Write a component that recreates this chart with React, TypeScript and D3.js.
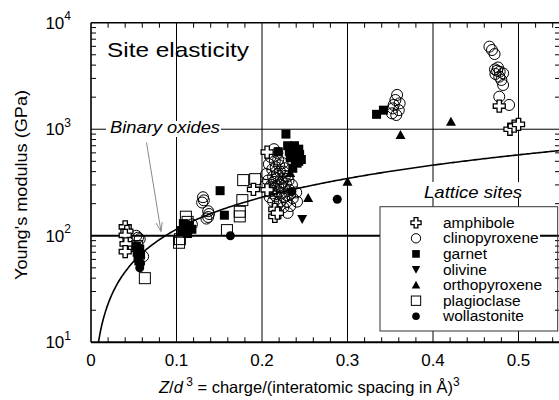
import React from "react";
import * as d3 from "d3";

// Young's modulus of crystal sites vs. Z/d^3, by host mineral: [Z/d^3, E (GPa)]
const amphibole: [number, number][] = [
  [0.040, 121], [0.042, 110], [0.040, 101], [0.041, 84], [0.040, 71],
  [0.190, 272], [0.206, 610], [0.206, 270], [0.215, 177], [0.215, 152], [0.218, 163],
  [0.4775, 1650], [0.490, 1000], [0.495, 1070], [0.500, 1110],
];
const clinopyroxene: [number, number][] = [
  [0.053, 100], [0.057, 93], [0.055, 96], [0.061, 64],
  [0.112, 125], [0.118, 128],
  [0.131, 230], [0.132, 215], [0.130, 205], [0.137, 170], [0.138, 160], [0.137, 150], [0.135, 145],
  [0.210, 550], [0.215, 500], [0.220, 460], [0.212, 420], [0.225, 400], [0.218, 380], [0.230, 360],
  [0.222, 340], [0.214, 320], [0.228, 310], [0.235, 300], [0.219, 290], [0.226, 280], [0.232, 270],
  [0.211, 265], [0.240, 255], [0.223, 250], [0.229, 240], [0.216, 235], [0.236, 225], [0.213, 210],
  [0.221, 209], [0.229, 209], [0.241, 209], [0.218, 195], [0.233, 190], [0.225, 185], [0.230, 164],
  [0.217, 170], [0.209, 230], [0.205, 380], [0.208, 470], [0.214, 650],
  [0.207, 330], [0.211, 300], [0.216, 440], [0.219, 520], [0.224, 480], [0.227, 430], [0.221, 400],
  [0.213, 360], [0.217, 345], [0.224, 320], [0.231, 330], [0.227, 365], [0.209, 280], [0.212, 250],
  [0.219, 255], [0.226, 230], [0.233, 245], [0.222, 300], [0.215, 280], [0.204, 300], [0.218, 600],
  [0.358, 2100], [0.356, 1880], [0.354, 1690], [0.360, 1510], [0.352, 1410], [0.357, 1360],
  [0.353, 1570], [0.361, 1750],
  [0.466, 5960], [0.469, 5540], [0.472, 5080], [0.4725, 3650], [0.475, 3540], [0.478, 3470],
  [0.482, 3350], [0.4775, 3110], [0.480, 2900], [0.482, 2600], [0.4775, 2020], [0.489, 1690],
  [0.476, 3800], [0.473, 3300],
];
const garnet: [number, number][] = [
  [0.053, 80], [0.054, 70], [0.055, 62], [0.056, 58], [0.058, 66], [0.057, 75],
  [0.108, 130], [0.112, 120], [0.115, 125], [0.110, 110], [0.118, 115], [0.113, 105], [0.106, 112],
  [0.151, 265], [0.156, 156], [0.219, 615],
  [0.228, 900], [0.238, 700], [0.243, 650], [0.244, 580], [0.238, 560], [0.246, 520],
  [0.241, 480], [0.236, 430], [0.232, 620], [0.235, 650], [0.240, 600], [0.243, 500],
  [0.239, 520], [0.236, 590], [0.230, 700], [0.233, 540],
  [0.334, 1380], [0.342, 1510],
];
const olivine: [number, number][] = [[0.247, 144]];
const orthopyroxene: [number, number][] = [
  [0.233, 388], [0.254, 226], [0.300, 321], [0.362, 882], [0.421, 1175],
];
const plagioclase: [number, number][] = [
  [0.063, 40], [0.054, 80],
  [0.111, 151], [0.103, 86], [0.104, 93], [0.113, 135],
  [0.159, 113], [0.174, 168], [0.174, 152], [0.178, 333], [0.192, 340], [0.177, 216],
];
const wollastonite: [number, number][] = [
  [0.058, 55], [0.057, 50], [0.163, 100], [0.235, 260], [0.288, 220],
];

const legendNames = [
  "amphibole", "clinopyroxene", "garnet", "olivine", "orthopyroxene", "plagioclase", "wollastonite",
];
const xTicks = [0, 0.1, 0.2, 0.3, 0.4, 0.5];
const yTickExps = [1, 2, 3, 4];

// Lattice-site trend: E proportional to Z/d^3 (GPa per unit Z/d^3)
const latticeSlope = 1150;

const FONT = "'Liberation Sans', Arial, Helvetica, sans-serif";

type Kind = "cross" | "circle" | "square" | "down" | "up" | "openSquare" | "dot";
const kindOf: Record<string, Kind> = {
  amphibole: "cross",
  clinopyroxene: "circle",
  garnet: "square",
  olivine: "down",
  orthopyroxene: "up",
  plagioclase: "openSquare",
  wollastonite: "dot",
};

function Marker({ kind, cx, cy, s = 1 }: { kind: Kind; cx: number; cy: number; s?: number }) {
  const t = `translate(${cx},${cy})`;
  switch (kind) {
    case "cross": {
      const a = 2.2 * s, L = 6 * s;
      const pts = [
        [-a, -L], [a, -L], [a, -a], [L, -a], [L, a], [a, a], [a, L], [-a, L], [-a, a], [-L, a], [-L, -a], [-a, -a],
      ].map((p) => p.join(",")).join(" ");
      return <polygon transform={t} points={pts} fill="#fff" stroke="#000" strokeWidth={1.3} />;
    }
    case "circle":
      return <circle cx={cx} cy={cy} r={5.5 * s} fill="none" stroke="#000" strokeWidth={1} />;
    case "square":
      return <rect x={cx - 4.5 * s} y={cy - 4.5 * s} width={9 * s} height={9 * s} fill="#000" />;
    case "openSquare":
      return (
        <rect x={cx - 5.5 * s} y={cy - 5.5 * s} width={11 * s} height={11 * s} fill="none" stroke="#000" strokeWidth={1} />
      );
    case "up": {
      const h = 5 * s;
      return <polygon transform={t} points={`0,${-h} ${h},${h * 0.8} ${-h},${h * 0.8}`} fill="#000" />;
    }
    case "down": {
      const h = 5 * s;
      return <polygon transform={t} points={`0,${h} ${h},${-h * 0.8} ${-h},${-h * 0.8}`} fill="#000" />;
    }
    case "dot":
      return <circle cx={cx} cy={cy} r={4.5 * s} fill="#000" />;
  }
}

export default function App() {
  const W = 559, H = 400;
  const x0 = 91, x1 = 560, yTop = 22.7, yBot = 342.3;
  const x = d3.scaleLinear().domain([0, (x1 - x0) / 855]).range([x0, x1]);
  const y = d3.scaleLog().domain([10, 10000]).range([yBot, yTop]);

  // minor ticks
  const xMinor = d3.range(0.02, 0.56, 0.02).filter((v) => Math.abs(v * 10 - Math.round(v * 10)) > 1e-6);
  const yMinor: number[] = [];
  for (let e = 1; e < 4; e++) for (let m = 2; m <= 9; m++) yMinor.push(m * Math.pow(10, e));

  // lattice-site curve
  const xs = d3.range(10 / latticeSlope, x.domain()[1] + 0.001, 0.002);
  const curve = d3.line<number>().x((v) => x(v)).y((v) => y(latticeSlope * v))(xs) || "";

  const series: [string, [number, number][]][] = [
    ["plagioclase", plagioclase],
    ["clinopyroxene", clinopyroxene],
    ["amphibole", amphibole],
    ["garnet", garnet],
    ["olivine", olivine],
    ["orthopyroxene", orthopyroxene],
    ["wollastonite", wollastonite],
  ];

  const lg = { x: 380, y: 206.7, w: 177.7, h: 124.3 };

  return (
    <svg width={W} height={H} style={{ position: "absolute", left: 0, top: 0, background: "#fff" }} fontFamily={FONT}>
      <defs>
        <clipPath id="plot">
          <rect x={x0} y={yTop} width={x1 - x0} height={yBot - yTop} />
        </clipPath>
      </defs>

      {/* grid lines at major ticks */}
      {xTicks.slice(1).map((v) => (
        <line key={v} x1={x(v)} x2={x(v)} y1={yTop} y2={yBot} stroke="#000" strokeWidth={1} />
      ))}
      <line x1={x0} x2={x1} y1={y(1000)} y2={y(1000)} stroke="#000" strokeWidth={1} />
      <line x1={x0} x2={x1} y1={y(100)} y2={y(100)} stroke="#000" strokeWidth={2.2} />

      {/* label backgrounds */}
      <rect x={106} y={121} width={115} height={16} fill="#fff" />
      <rect x={420} y={182} width={106} height={16} fill="#fff" />

      {/* axes frame and minor ticks */}
      <g stroke="#000">
        <line x1={x0} x2={x0} y1={yTop} y2={yBot} strokeWidth={1.6} />
        <line x1={x0} x2={x1} y1={yTop} y2={yTop} strokeWidth={1.6} />
        <line x1={x0} x2={x1} y1={yBot} y2={yBot} strokeWidth={2} />
        <line x1={x1} x2={x1} y1={yTop} y2={yBot} strokeWidth={1.6} />
        {xMinor.map((v) => (
          <g key={v}>
            <line x1={x(v)} x2={x(v)} y1={yTop} y2={yTop + 5} strokeWidth={1} />
            <line x1={x(v)} x2={x(v)} y1={yBot} y2={yBot - 5} strokeWidth={1} />
          </g>
        ))}
        {yMinor.map((v) => (
          <g key={v}>
            <line x1={x0} x2={x0 + 5} y1={y(v)} y2={y(v)} strokeWidth={1} />
            <line x1={x1} x2={x1 - 5} y1={y(v)} y2={y(v)} strokeWidth={1} />
          </g>
        ))}
      </g>

      {/* lattice-site trend */}
      <path d={curve} fill="none" stroke="#000" strokeWidth={1.6} clipPath="url(#plot)" />

      {/* binary oxides pointer */}
      <g stroke="#8a8a8a" strokeWidth={1} fill="none">
        <line x1={146.5} y1={142.5} x2={161} y2={231.5} />
        <polyline points="156.2,223.2 161,231.5 162.2,222" />
      </g>

      {/* data */}
      <g clipPath="url(#plot)">
        {series.map(([name, pts]) =>
          pts.map((p, i) => <Marker key={name + i} kind={kindOf[name]} cx={x(p[0])} cy={y(p[1])} />)
        )}
      </g>

      {/* in-plot labels */}
      <text x={107} y={57} fontSize={21} textLength={142} lengthAdjust="spacingAndGlyphs">Site elasticity</text>
      <text x={110} y={133} fontSize={16} fontStyle="italic" textLength={110} lengthAdjust="spacingAndGlyphs">Binary oxides</text>
      <text x={424} y={197.5} fontSize={16.5} fontStyle="italic" textLength={98} lengthAdjust="spacingAndGlyphs">Lattice sites</text>

      {/* legend */}
      <rect x={lg.x} y={lg.y} width={160} height={lg.h} fill="#fff" />
      <rect x={lg.x} y={lg.y} width={lg.w} height={lg.h} fill="none" stroke="#333" strokeWidth={1} />
      {legendNames.map((n, i) => {
        const ry = 222.7 + i * 15.6;
        return (
          <g key={n}>
            <Marker kind={kindOf[n]} cx={416} cy={ry} s={0.85} />
            <text x={443} y={ry + 5} fontSize={15.5}>{n}</text>
          </g>
        );
      })}

      {/* tick labels */}
      {xTicks.map((v) => (
        <text key={v} x={x(v)} y={366} fontSize={17} textAnchor="middle">{v === 0 ? "0" : d3.format(".1f")(v)}</text>
      ))}
      {yTickExps.map((e) => (
        <text key={e} x={71} y={y(Math.pow(10, e)) + 6} fontSize={17} textAnchor="end">
          10
          <tspan fontSize={12} dy={-8.5}>{e}</tspan>
        </text>
      ))}

      {/* axis titles */}
      <text transform="translate(27,185) rotate(-90)" fontSize={17} textAnchor="middle" textLength={190} lengthAdjust="spacingAndGlyphs">
        Young's modulus (GPa)
      </text>
      <text x={159} y={393} fontSize={16.5}>
        <tspan fontStyle="italic">Z</tspan>/<tspan fontStyle="italic">d</tspan>
        <tspan fontSize={12} dy={-7}> 3</tspan>
        <tspan dy={7}> = charge/(interatomic spacing in Å)</tspan>
        <tspan fontSize={12} dy={-7}>3</tspan>
      </text>
    </svg>
  );
}
